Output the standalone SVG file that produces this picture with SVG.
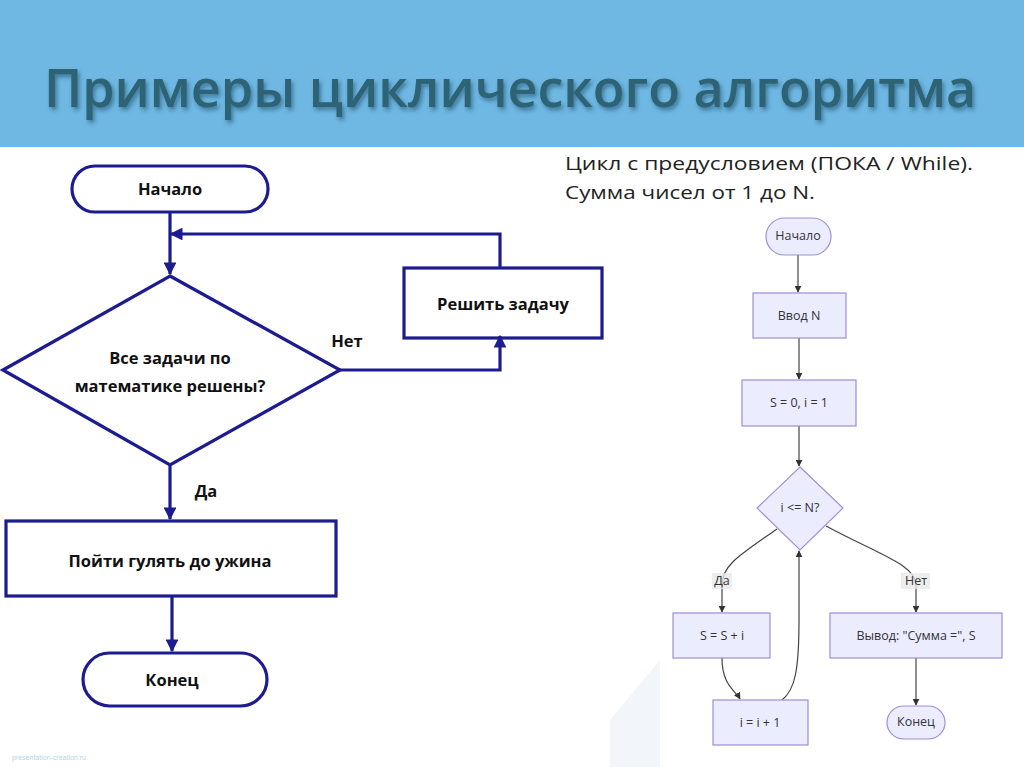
<svg xmlns="http://www.w3.org/2000/svg" width="1024" height="767" viewBox="0 0 1024 767">
<style>
.lb{fill:none;stroke:#1c1c90;stroke-width:3.2}
.lt{font-family:"Open Sans","Liberation Sans",sans-serif;font-weight:bold;font-size:16.5px;fill:#111;text-anchor:middle}
.mn{fill:#ececff;stroke:#a08ed8;stroke-width:1.2}
.mt{font-family:"Open Sans","Liberation Sans",sans-serif;font-size:12.5px;fill:#333;text-anchor:middle}
.me{fill:none;stroke:#444;stroke-width:1.2}
.ml{fill:#e8e8e8;fill-opacity:0.8}
</style>
<defs>
<marker id="ab" viewBox="0 0 10 10" refX="9" refY="5" markerWidth="4" markerHeight="4" orient="auto" markerUnits="strokeWidth"><path d="M0,0 L10,5 L0,10 z" fill="#1c1c90"/></marker>
<marker id="am" viewBox="0 0 10 10" refX="9" refY="5" markerWidth="7" markerHeight="7" orient="auto" markerUnits="userSpaceOnUse"><path d="M0,0 L10,5 L0,10 z" fill="#333"/></marker>
<filter id="sh" filterUnits="userSpaceOnUse" x="0" y="0" width="1024" height="147"><feDropShadow dx="2" dy="3" stdDeviation="2" flood-color="#20506a" flood-opacity="0.6"/></filter>
</defs>
<rect width="1024" height="767" fill="#ffffff"/>
<rect x="0" y="0" width="1024" height="147" fill="#6fb8e3"/>
<text x="510" y="107" font-family="Open Sans,Liberation Sans,sans-serif" font-size="52" font-weight="600" fill="#2f6275" text-anchor="middle" filter="url(#sh)">Примеры циклического алгоритма</text>
<polygon points="610,720 660,660 660,767 610,767" fill="#f2f6fb"/>
<text x="12" y="760" font-family="Liberation Sans,sans-serif" font-size="7" fill="#b8d4e6">presentation-creation.ru</text>

<text x="565" y="170" font-family="Open Sans,Liberation Sans,sans-serif" font-size="19" fill="#222" textLength="408" lengthAdjust="spacingAndGlyphs">Цикл с предусловием (ПОКА / While).</text>
<text x="565" y="199" font-family="Open Sans,Liberation Sans,sans-serif" font-size="19" fill="#222" textLength="250" lengthAdjust="spacingAndGlyphs">Сумма чисел от 1 до N.</text>

<g id="left-connectors">
<line class="lb" x1="170" y1="212" x2="170" y2="274" marker-end="url(#ab)"/>
<polyline class="lb" points="500,267 500,234 171,234" marker-end="url(#ab)"/>
<polyline class="lb" points="340,370 500,370 500,336" marker-end="url(#ab)"/>
<line class="lb" x1="170" y1="465" x2="170" y2="519" marker-end="url(#ab)"/>
<line class="lb" x1="172" y1="596" x2="172" y2="651" marker-end="url(#ab)"/>
<text class="lt" x="347" y="347">Нет</text>
<text class="lt" x="206" y="497">Да</text>
</g>
<g id="l-start"><rect class="lb" x="72" y="166" width="196" height="46" rx="23" fill="#fff"/><text class="lt" x="170" y="195">Начало</text></g>
<g id="l-cond"><polygon class="lb" points="170,276 340,370 170,465 3,370" fill="#fff"/><text class="lt" x="170" y="364">Все задачи по</text><text class="lt" x="170" y="392">математике решены?</text></g>
<g id="l-solve"><rect class="lb" x="404" y="268" width="198" height="70" fill="#fff"/><text class="lt" x="503" y="310">Решить задачу</text></g>
<g id="l-walk"><rect class="lb" x="6" y="521" width="330" height="75" fill="#fff"/><text class="lt" x="170" y="567">Пойти гулять до ужина</text></g>
<g id="l-end"><rect class="lb" x="83" y="653" width="184" height="53" rx="26.5" fill="#fff"/><text class="lt" x="172" y="686">Конец</text></g>

<g id="right-connectors">
<line class="me" x1="798" y1="255" x2="798" y2="292" marker-end="url(#am)"/>
<line class="me" x1="799" y1="338" x2="799" y2="379" marker-end="url(#am)"/>
<line class="me" x1="799" y1="426" x2="799" y2="466" marker-end="url(#am)"/>
<path class="me" d="M777,529 C740,555 722,565 722,585 L722,612" marker-end="url(#am)"/>
<path class="me" d="M826,526 C880,555 916,565 916,585 L916,612" marker-end="url(#am)"/>
<path class="me" d="M722,658 C722,685 735,690 740,699" marker-end="url(#am)"/>
<path class="me" d="M782,700 C795,690 799,670 799,620 L799,551" marker-end="url(#am)"/>
<line class="me" x1="916" y1="658" x2="916" y2="705" marker-end="url(#am)"/>
<rect class="ml" x="712" y="573" width="20" height="16"/>
<text class="mt" x="722" y="585">Да</text>
<rect class="ml" x="901" y="573" width="29" height="16"/>
<text class="mt" x="916" y="585">Нет</text>
</g>
<g id="r-start"><rect class="mn" x="766" y="218" width="65" height="37" rx="18.5"/><text class="mt" x="798" y="240">Начало</text></g>
<g id="r-input"><rect class="mn" x="753" y="293" width="93" height="45"/><text class="mt" x="799" y="320">Ввод N</text></g>
<g id="r-init"><rect class="mn" x="742" y="380" width="114" height="46"/><text class="mt" x="799" y="407">S = 0, i = 1</text></g>
<g id="r-cond"><polygon class="mn" points="800,467 843,508 800,550 757,508"/><text class="mt" x="800" y="512">i &lt;= N?</text></g>
<g id="r-sum"><rect class="mn" x="673" y="613" width="97" height="45"/><text class="mt" x="722" y="640">S = S + i</text></g>
<g id="r-out"><rect class="mn" x="830" y="613" width="172" height="45"/><text class="mt" x="916" y="640">Вывод: "Сумма =", S</text></g>
<g id="r-inc"><rect class="mn" x="713" y="700" width="95" height="45"/><text class="mt" x="760" y="727">i = i + 1</text></g>
<g id="r-end"><rect class="mn" x="887" y="706" width="58" height="33" rx="16.5"/><text class="mt" x="916" y="726">Конец</text></g>
</svg>
